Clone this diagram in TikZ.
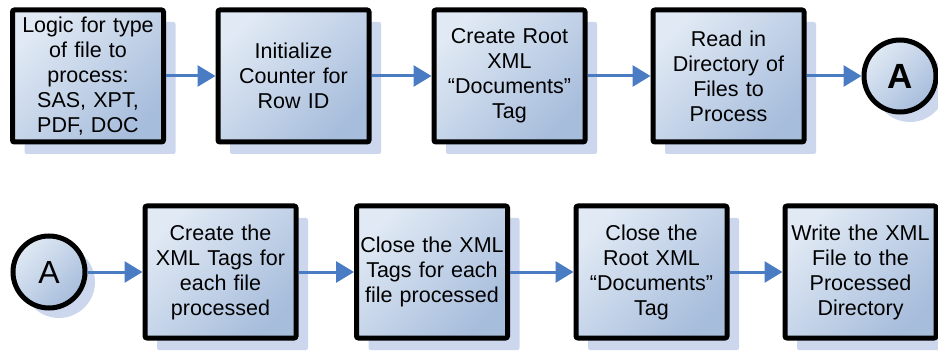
\documentclass[tikz,border=0pt]{standalone}
\usepackage{fontspec}
\setmainfont{Liberation Sans}
\usetikzlibrary{shadows,arrows.meta}
\definecolor{lightfill}{HTML}{E0E9F4}
\definecolor{darkfill}{HTML}{A7BDDC}
\definecolor{shadowblue}{HTML}{CCD7EE}
\definecolor{arrowblue}{HTML}{4A7CC4}
\tikzset{
  flowbox/.style={draw=black, line width=5pt, rounded corners=2pt,
    shading=axis, left color=lightfill, right color=darkfill, shading angle=45,
    minimum width=151pt, minimum height=132pt, text width=150pt, align=center,
    font=\fontsize{21.5}{25}\selectfont, inner sep=0pt,
    drop shadow={shadow xshift=12pt, shadow yshift=-12pt, fill=shadowblue, opacity=1}},
  connector/.style={draw=black, circle, line width=5pt,
    shading=axis, left color=lightfill, right color=darkfill, shading angle=45,
    minimum size=72pt, inner sep=0pt,
    drop shadow={shadow xshift=10pt, shadow yshift=-10pt, fill=shadowblue, opacity=1}},
  flowarrow/.style={draw=arrowblue, line width=3pt, -{Triangle[length=18pt,width=21pt]}}
}
\begin{document}
\begin{tikzpicture}[x=1pt,y=1pt]
\useasboundingbox (0,0) rectangle (938,354);
\node[flowbox] (b1) at (88,278) {Logic for type\\of file to\\process:\\SAS, XPT,\\PDF, DOC};
\node[flowbox] (b2) at (293.5,278) {Initialize\\Counter for\\Row ID};
\node[flowbox] (b3) at (509.5,278) {Create Root\\XML\\“Documents”\\Tag};
\node[flowbox] (b4) at (728.5,278) {Read in\\Directory of\\Files to\\Process};
\node[connector, font=\fontsize{35}{40}\selectfont\bfseries] (a1) at (900,278) {A};
\node[connector, font=\fontsize{32}{38}\selectfont] (a2) at (49,82) {A};
\node[flowbox] (b5) at (220.5,82) {Create the\\XML Tags for\\each file\\processed};
\node[flowbox] (b6) at (432,82) {Close the XML\\Tags for each\\file processed};
\node[flowbox] (b7) at (651.5,82) {Close the\\Root XML\\“Documents”\\Tag};
\node[flowbox] (b8) at (860.5,82) {Write the XML\\File to the\\Processed\\Directory};
\draw[flowarrow] (b1.east) -- (b2.west);
\draw[flowarrow] (b2.east) -- (b3.west);
\draw[flowarrow] (b3.east) -- (b4.west);
\draw[flowarrow] (b4.east) -- (a1.west);
\draw[flowarrow] (a2.east) -- (b5.west);
\draw[flowarrow] (b5.east) -- (b6.west);
\draw[flowarrow] (b6.east) -- (b7.west);
\draw[flowarrow] (b7.east) -- (b8.west);
\end{tikzpicture}
\end{document}
